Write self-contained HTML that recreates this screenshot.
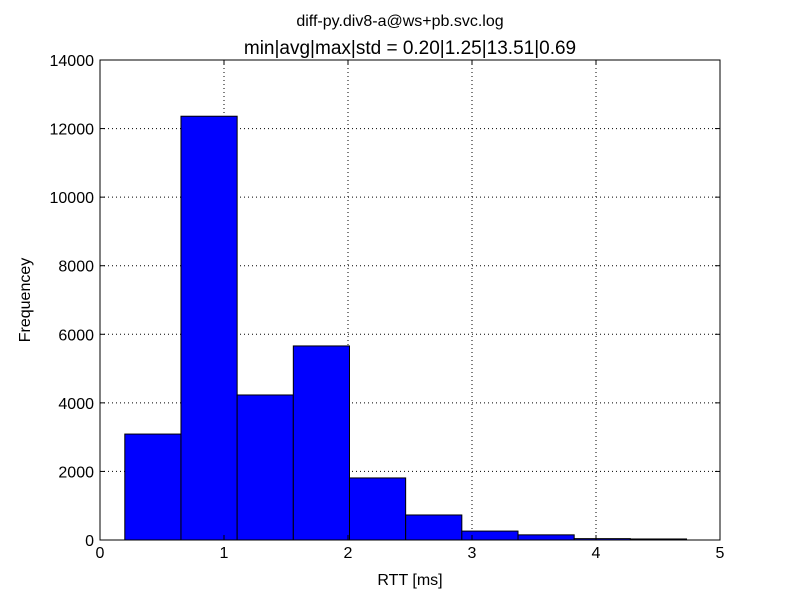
<!DOCTYPE html>
<html><head><meta charset="utf-8"><style>
body{margin:0;background:#fff;font-family:"Liberation Sans","DejaVu Sans",sans-serif;}
</style></head><body>
<svg id="chart" width="800" height="600" xmlns="http://www.w3.org/2000/svg">
<rect width="800" height="600" fill="#fff"/>
<text x="400" y="26" text-anchor="middle" font-size="16">diff-py.div8-a@ws+pb.svc.log</text>
<text x="410" y="54" text-anchor="middle" font-size="19">min|avg|max|std = 0.20|1.25|13.51|0.69</text>
<g id="grid"></g>
<g id="bars"></g>
<rect x="100" y="60" width="620" height="480" fill="none" stroke="#000" stroke-width="1"/>
<g id="axes"></g>
<text x="410" y="585" text-anchor="middle" font-size="16">RTT [ms]</text>
<text x="30" y="300" text-anchor="middle" font-size="16" transform="rotate(-90 30 300)">Frequencey</text>
</svg>
<script>
const binEdges=[0.2,0.653,1.106,1.559,2.012,2.465,2.918,3.371,3.824,4.277,4.73];
const counts=[3090,12360,4230,5660,1810,730,260,150,40,30];
const xTicks=[0,1,2,3,4,5];
const yTicks=[0,2000,4000,6000,8000,10000,12000,14000];
const NS="http://www.w3.org/2000/svg";
const X=v=>100+v*124, Y=v=>540-v*480/14000;
const g=document.getElementById('grid'),b=document.getElementById('bars'),a=document.getElementById('axes');
function el(t,at,p){const e=document.createElementNS(NS,t);for(const k in at)e.setAttribute(k,at[k]);p.appendChild(e);return e;}
xTicks.forEach(t=>{
  if(t>0&&t<5){const l=el('line',{x1:X(t),x2:X(t),y1:60,y2:540,stroke:'#000','stroke-dasharray':'1,3','stroke-width':1},g);
  
  }
  el('line',{x1:X(t),x2:X(t),y1:540,y2:535,stroke:'#000'},a);
  el('line',{x1:X(t),x2:X(t),y1:60,y2:65,stroke:'#000'},a);
  const tx=el('text',{x:X(t),y:558,'text-anchor':'middle','font-size':16},a);tx.textContent=t;
  
  
});
yTicks.forEach(t=>{
  if(t>0&&t<14000){const l=el('line',{x1:100,x2:720,y1:Y(t),y2:Y(t),stroke:'#000','stroke-dasharray':'1,3','stroke-width':1},g);
  
  }
  el('line',{x1:100,x2:105,y1:Y(t),y2:Y(t),stroke:'#000'},a);
  el('line',{x1:715,x2:720,y1:Y(t),y2:Y(t),stroke:'#000'},a);
  const tx=el('text',{x:94,y:Y(t)+6,'text-anchor':'end','font-size':16},a);tx.textContent=t;
  
  
});
counts.forEach((c,i)=>{
  const r=el('rect',{x:X(binEdges[i]),y:Y(c),width:X(binEdges[i+1])-X(binEdges[i]),height:540-Y(c),fill:'#0000ff',stroke:'#000','stroke-width':1},b);
  
  
});
</script>
</body></html>
